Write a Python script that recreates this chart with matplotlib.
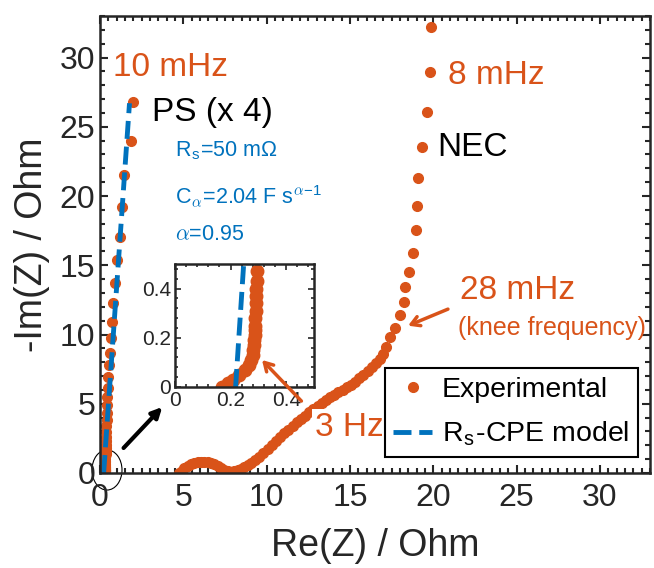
import numpy as np
import matplotlib
matplotlib.use("Agg")
import matplotlib.pyplot as plt
from matplotlib.patches import Ellipse
from matplotlib.ticker import MultipleLocator

plt.rcParams['font.family'] = ['Liberation Sans', 'DejaVu Sans']
plt.rcParams['mathtext.fontset'] = 'cm'

ORANGE = '#D95319'
BLUE = '#0072BD'
GREY = '#262626'

# PS electrode (x 4), low part shown in the inset as well
ps_re = [0.17, 0.19, 0.21, 0.23, 0.25, 0.265, 0.275, 0.28, 0.282, 0.284, 0.285,
         0.286, 0.287, 0.288, 0.289, 0.29, 0.291, 0.292, 0.293, 0.294, 0.295,
         0.30, 0.305, 0.31, 0.315, 0.32, 0.325, 0.33, 0.335, 0.34, 0.345, 0.35,
         0.36, 0.37, 0.38, 0.39, 0.40, 0.42, 0.44,
         0.46, 0.50, 0.55, 0.61, 0.65, 0.72, 0.80, 0.90, 1.04, 1.20, 1.34, 1.46,
         1.84, 1.97]
ps_im = [0.0, 0.015, 0.03, 0.05, 0.07, 0.09, 0.11, 0.13, 0.15, 0.17, 0.19,
         0.21, 0.23, 0.25, 0.28, 0.31, 0.34, 0.37, 0.40, 0.43, 0.47,
         0.55, 0.65, 0.76, 0.88, 1.02, 1.18, 1.36, 1.56, 1.78, 2.02, 2.30,
         2.62, 2.98, 3.38, 3.82, 4.32, 4.88, 5.48,
         6.14, 6.95, 7.80, 8.64, 9.73, 10.92, 12.25, 13.70, 15.38, 17.06, 19.23, 21.52,
         23.97, 26.81]

# NEC electrode
nec_re = [4.75, 4.9, 5.05, 5.25, 5.45, 5.65, 5.85, 6.05, 6.25, 6.45, 6.65, 6.85,
          7.05, 7.25, 7.45, 7.65, 7.85, 8.05, 8.25, 8.45, 8.65, 8.85, 9.05, 9.3,
          9.55, 9.8, 10.05, 10.3, 10.55, 10.8, 11.05, 11.3, 11.55, 11.8, 12.05,
          12.3, 12.55, 12.8, 13.05, 13.3, 13.55, 13.8, 14.05, 14.3, 14.55, 14.8,
          15.05, 15.3, 15.55, 15.8, 16.05, 16.3, 16.55, 16.8, 17.0,
          17.17, 17.41, 17.67, 17.97, 18.21, 18.31, 18.51, 18.77, 18.93, 19.01,
          19.07, 19.33, 19.61, 19.77, 19.87]
nec_im = [0.0, 0.18, 0.35, 0.52, 0.64, 0.73, 0.79, 0.82, 0.82, 0.80, 0.74, 0.64,
          0.52, 0.38, 0.25, 0.15, 0.10, 0.12, 0.20, 0.32, 0.46, 0.60, 0.74, 0.95,
          1.18, 1.42, 1.70, 2.00, 2.30, 2.58, 2.86, 3.13, 3.40, 3.65, 3.90,
          4.14, 4.38, 4.60, 4.82, 5.04, 5.26, 5.46, 5.64, 5.82, 6.00, 6.18,
          6.38, 6.60, 6.83, 7.08, 7.35, 7.64, 7.94, 8.26, 8.62,
          9.12, 9.84, 10.49, 11.41, 12.37, 13.45, 14.53, 15.86, 17.55, 19.30,
          21.28, 23.52, 26.09, 28.97, 32.18]

# Rs-CPE model line
model_re = [0.218, 1.77]
model_im = [0.0, 26.7]

fig = plt.figure(figsize=(6.54, 5.68), dpi=100)
ax = fig.add_axes([100 / 654, 1 - 473 / 568, 550 / 654, 457 / 568])

ax.plot(ps_re, ps_im, 'o', color=ORANGE, ms=7, label='Experimental')
ax.plot(nec_re, nec_im, 'o', color=ORANGE, ms=7)
ax.plot(model_re, model_im, '--', color=BLUE, lw=3.5, label='R$_\\mathregular{s}$-CPE model')

ax.set_xlim(0, 33)
ax.set_ylim(0, 33)
ax.xaxis.set_major_locator(MultipleLocator(5))
ax.xaxis.set_minor_locator(MultipleLocator(0.5))
ax.yaxis.set_major_locator(MultipleLocator(5))
ax.yaxis.set_minor_locator(MultipleLocator(1))
ax.tick_params(which='both', direction='in', top=True, right=True, colors=GREY,
               labelsize=23, width=1.5)
ax.tick_params(axis='x', which='major', pad=7)
ax.tick_params(which='major', length=6)
ax.tick_params(which='minor', length=3.5)
for s in ax.spines.values():
    s.set_linewidth(1.8)
    s.set_color(GREY)
ax.set_xlabel('Re(Z) / Ohm', fontsize=27, color=GREY, labelpad=11)
ax.set_ylabel('-Im(Z) / Ohm', fontsize=27, color=GREY, labelpad=7)

leg = ax.legend(loc='lower right', bbox_to_anchor=(0.978, 0.035), borderaxespad=0,
                fontsize=20.5, fancybox=False, edgecolor='black', framealpha=1,
                handlelength=1.37, handletextpad=0.35, labelspacing=0.6,
                borderpad=0.3)
leg.get_frame().set_linewidth(1.5)

# labels
ax.text(0.78, 29.3, '10 mHz', color=ORANGE, fontsize=24, va='center')
ax.text(3.13, 26.06, 'PS (x 4)', color='black', fontsize=24, va='center')
ax.text(4.5, 22.84, 'R$_\\mathregular{s}$=50 m\u03a9', color=BLUE, fontsize=15.5, va='baseline')
ax.text(4.5, 19.47, 'C$_\\alpha$=2.04 F s$^{\\alpha\\mathregular{-1}}$', color=BLUE,
        fontsize=15.5, va='baseline')
ax.text(4.5, 16.82, '$\\alpha$=0.95', color=BLUE, fontsize=15.5, va='baseline')
ax.text(20.9, 28.7, '8 mHz', color=ORANGE, fontsize=24, va='center')
ax.text(20.25, 23.5, 'NEC', color='black', fontsize=24, va='center')
ax.text(21.6, 13.2, '28 mHz', color=ORANGE, fontsize=24, va='center')
ax.text(21.5, 10.5, '(knee frequency)', color=ORANGE, fontsize=18, va='center')
ax.text(12.9, 3.3, '3 Hz', color=ORANGE, fontsize=24, va='center',
        bbox=dict(facecolor='white', edgecolor='none', pad=2))

ax.annotate('', xy=(18.33, 10.56), xytext=(21.03, 11.91),
            arrowprops=dict(arrowstyle='->,head_length=0.6,head_width=0.35',
                            color=ORANGE, lw=2.5))
ax.annotate('', xy=(3.85, 4.91), xytext=(1.30, 1.66),
            arrowprops=dict(arrowstyle='-|>,head_length=0.6,head_width=0.3',
                            color='black', lw=3))
ax.add_patch(Ellipse((0.42, 0.22), 1.8, 2.9, fill=False, lw=0.8, color='black',
                     clip_on=False))

# inset
ax_in = fig.add_axes([175 / 654, 1 - 387 / 568, 139 / 654, 123 / 568])
ax_in.plot(ps_re, ps_im, 'o', color=ORANGE, ms=9)
ax_in.plot(model_re, model_im, '--', color=BLUE, lw=3.5)
ax_in.set_xlim(0, 0.5)
ax_in.set_ylim(0, 0.5)
ax_in.set_xticks([0, 0.2, 0.4])
ax_in.set_yticks([0, 0.2, 0.4])
ax_in.set_xticklabels(['0', '0.2', '0.4'])
ax_in.set_yticklabels(['0', '0.2', '0.4'])
ax_in.xaxis.set_minor_locator(MultipleLocator(0.04))
ax_in.yaxis.set_minor_locator(MultipleLocator(0.04))
ax_in.tick_params(which='both', direction='in', top=True, right=True, colors=GREY,
                  labelsize=15, width=1.2, pad=3)
ax_in.tick_params(which='major', length=4)
ax_in.tick_params(which='minor', length=2)
for s in ax_in.spines.values():
    s.set_linewidth(1.8)
    s.set_color(GREY)

ax_in.annotate('', xy=(0.306, 0.118), xycoords='data', xytext=(12.2, 5.05),
               textcoords=ax.transData,
               arrowprops=dict(arrowstyle='->,head_length=0.6,head_width=0.35',
                               color=ORANGE, lw=2.5))

fig.savefig('out.png', dpi=100)
